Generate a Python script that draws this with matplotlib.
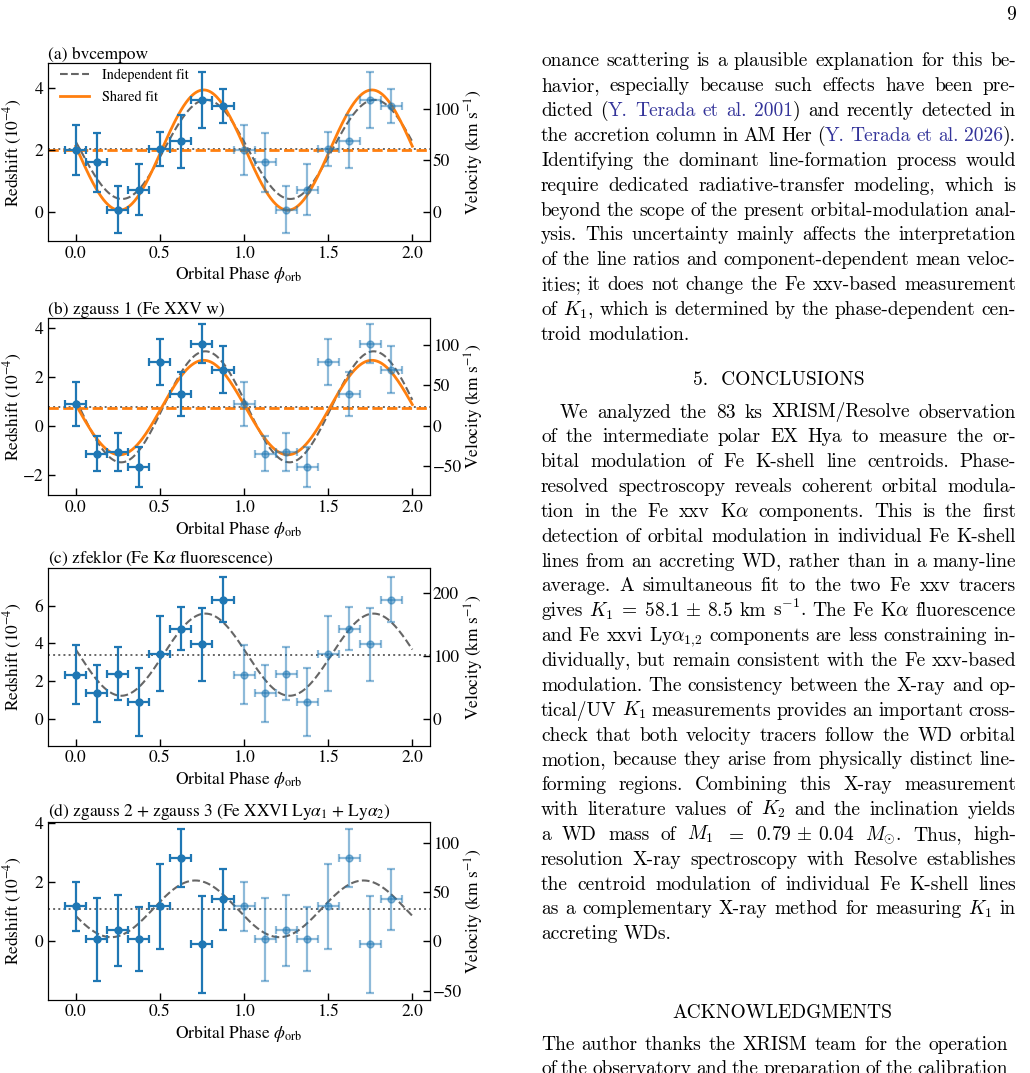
import re
import numpy as np
import matplotlib
matplotlib.use('Agg')
import matplotlib.pyplot as plt

plt.rcParams['font.family'] = 'STIXGeneral'
plt.rcParams['mathtext.fontset'] = 'stix'

W, H = 1030, 1073
C_KMS = 299792.458

# ---- data (redshift in units of 1e-4) ----
phase = np.arange(8) * 0.125
phase_err = 0.0625

z_a = [2.00, 1.61, 0.08, 0.72, 2.02, 2.28, 3.62, 3.42]
e_a = [0.82, 0.95, 0.75, 0.83, 0.55, 0.86, 0.91, 0.56]
z_b = [0.90, -1.15, -1.07, -1.70, 2.63, 1.31, 3.37, 2.30]
e_b = [0.90, 0.72, 0.78, 0.82, 0.95, 0.91, 0.80, 0.97]
z_c = [2.34, 1.35, 2.40, 0.90, 3.45, 4.77, 3.95, 6.32]
e_c = [1.55, 1.50, 1.43, 1.80, 2.00, 1.14, 1.95, 1.20]
z_d = [1.18, 0.07, 0.37, 0.09, 1.18, 2.81, -0.10, 1.43]
e_d = [0.83, 1.40, 1.19, 1.08, 1.45, 0.98, 1.65, 1.03]

# sinusoid fits: (mean, amplitude, phase of maximum)
indep_a = (2.02, 1.60, 0.775)
indep_b = (0.78, 2.28, 0.770)
indep_c = (3.40, 2.18, 0.770)
indep_d = (1.10, 0.96, 0.710)
shared_a = (2.00, 1.94, 0.760)
shared_b = (0.75, 1.94, 0.760)

titles = ['(a) bvcempow', '(b) zgauss 1 (Fe XXV w)',
          r'(c) zfeklor (Fe K$\alpha$ fluorescence)',
          r'(d) zgauss 2 + zgauss 3 (Fe XXVI Ly$\alpha_1$ + Ly$\alpha_2$)']
ylims = [(-0.93, 4.80), (-2.85, 4.44), (-1.42, 8.0), (-1.97, 4.04)]
zticks = [[0, 2, 4], [-2, 0, 2, 4], [0, 2, 4, 6], [0, 2, 4]]
vticks = [[0, 50, 100], [-50, 0, 50, 100], [0, 100, 200], [-50, 0, 50, 100]]
xticks = [0.0, 0.5, 1.0, 1.5, 2.0]

panels = [(z_a, e_a, indep_a, shared_a), (z_b, e_b, indep_b, shared_b),
          (z_c, e_c, indep_c, None), (z_d, e_d, indep_d, None)]

ax_tops = [63.3, 317.7, 568.0, 822.0]
ax_h = 177.5
ax_left, ax_w = 48, 382
FS = 12.5


def sine(p, pars):
    mean, amp, pmax = pars
    return mean + amp * np.sin(2 * np.pi * (p - pmax + 0.25))


fig = plt.figure(figsize=(W / 100, H / 100), dpi=100)
pgrid = np.linspace(0, 2, 400)

for i, (z, e, indep, shared) in enumerate(panels):
    top = ax_tops[i]
    ax = fig.add_axes([ax_left / W, 1 - (top + ax_h) / H, ax_w / W, ax_h / H])
    ax.errorbar(phase, z, xerr=phase_err, yerr=e, fmt='o', color='C0', ms=5,
                elinewidth=1.6, capsize=3, capthick=1.6, zorder=3)
    ax.errorbar(phase + 1, z, xerr=phase_err, yerr=e, fmt='o', color='C0', ms=5,
                elinewidth=1.6, capsize=3, capthick=1.6, alpha=0.5, zorder=3)
    ax.plot(pgrid, sine(pgrid, indep), ls='--', color='0.4', lw=1.5,
            label='Independent fit', zorder=2)
    ax.axhline(indep[0], ls=':', color='0.4', lw=1.4, zorder=1)
    if shared is not None:
        ax.plot(pgrid, sine(pgrid, shared), color='C1', lw=2,
                label='Shared fit', zorder=2)
        ax.axhline(shared[0], ls='--', color='C1', lw=2, zorder=1)
    ax.set_xlim(-0.165, 2.105)
    ax.set_ylim(*ylims[i])
    ax.set_xticks(xticks)
    ax.set_yticks(zticks[i])
    ax.tick_params(direction='in', length=5, width=1, labelsize=FS)
    ax.set_xlabel(r'Orbital Phase $\phi_{\rm orb}$', fontsize=FS, labelpad=2)
    ax.set_ylabel(r'Redshift ($10^{-4}$)', fontsize=FS)
    ax.yaxis.set_label_coords(-0.063, 0.5)
    ax.set_title(titles[i], loc='left', fontsize=FS, pad=1.5)
    if i == 0:
        ax.legend(loc='upper left', bbox_to_anchor=(0.017, 1.0), borderaxespad=0,
                  frameon=False, fontsize=10.3, handlelength=2, handletextpad=0.9,
                  labelspacing=0.55)
    ax2 = ax.twinx()
    ax2.set_ylim(np.array(ylims[i]) * C_KMS * 1e-4)
    ax2.set_yticks(vticks[i])
    ax2.tick_params(direction='in', length=5, width=1, labelsize=FS, pad=2)
    ax2.set_ylabel(r'Velocity (km s$^{-1}$)', fontsize=FS)
    ax2.yaxis.set_label_coords(1.086, 0.5)

# ---- text column on the right ----
BLUE = '#333399'
body_kw = dict(fontfamily='cmr10', math_fontfamily='cm', fontsize=14)
renderer = fig.canvas.get_renderer()

para1 = [
    "onance scattering is a plausible explanation for this be-",
    "havior, especially because such effects have been pre-",
    "dicted ([Y. Terada et al. 2001]) and recently detected in",
    "the accretion column in AM Her ([Y. Terada et al. 2026]).",
    "Identifying the dominant line-formation process would",
    "require dedicated radiative-transfer modeling, which is",
    "beyond the scope of the present orbital-modulation anal-",
    "ysis. This uncertainty mainly affects the interpretation",
    "of the line ratios and component-dependent mean veloc-",
    "ities; it does not change the Fe xxv-based measurement",
    "of $K_1$, which is determined by the phase-dependent cen-",
    "troid modulation.",
]
para2 = [
    "We analyzed the 83 ks XRISM/Resolve observation",
    "of the intermediate polar EX Hya to measure the or-",
    "bital modulation of Fe K-shell line centroids. Phase-",
    "resolved spectroscopy reveals coherent orbital modula-",
    r"tion in the Fe xxv K$\alpha$ components. This is the first",
    "detection of orbital modulation in individual Fe K-shell",
    "lines from an accreting WD, rather than in a many-line",
    "average. A simultaneous fit to the two Fe xxv tracers",
    r"gives $K_1\;=\;58.1\,\pm\,8.5$ km s$^{-1}$. The Fe K$\alpha$ fluorescence",
    r"and Fe xxvi Ly$\alpha_{1,\!2}$ components are less constraining in-",
    "dividually, but remain consistent with the Fe xxv-based",
    "modulation. The consistency between the X-ray and op-",
    "tical/UV $K_1$ measurements provides an important cross-",
    "check that both velocity tracers follow the WD orbital",
    "motion, because they arise from physically distinct line-",
    "forming regions. Combining this X-ray measurement",
    "with literature values of $K_2$ and the inclination yields",
    r"a WD mass of $M_1$ $=$ $0.79\,\pm\,0.04$ $M_{\odot}$. Thus, high-",
    "resolution X-ray spectroscopy with Resolve establishes",
    "the centroid modulation of individual Fe K-shell lines",
    "as a complementary X-ray method for measuring $K_1$ in",
    "accreting WDs.",
]
ack = [
    "The author thanks the XRISM team for the operation",
    "of the observatory and the preparation of the calibration",
]


def put_line(line, x0, x1, y, justify, state):
    words = re.findall(r'(?:\$[^$]*\$|[^\s$])+', line)
    groups = []
    for w in words:
        segs = []
        for p in re.split(r'([\[\]])', w):
            if p == '[':
                state['blue'] = True
            elif p == ']':
                state['blue'] = False
            elif p:
                t = fig.text(0, 1 - y / H, p, ha='left', va='baseline',
                             color=BLUE if state['blue'] else 'black', **body_kw)
                segs.append((t, t.get_window_extent(renderer).width))
        groups.append(segs)
    widths = [sum(wd for _, wd in g) for g in groups]
    if justify and len(groups) > 1:
        gap = (x1 - x0 - sum(widths)) / (len(groups) - 1)
    else:
        gap = 6.5
    x = x0
    for g in groups:
        for t, wd in g:
            t.set_x(x / W)
            x += wd
        x += gap


def put_par(lines, x0, x1, y0, dy, indent, last_full=False):
    state = {'blue': False}
    for k, line in enumerate(lines):
        full = last_full or k < len(lines) - 1
        put_line(line, x0 + (indent if k == 0 else 0), x1, y0 + k * dy, full, state)


col0, col1, lead = 541, 1016, 24.85
put_par(para1, col0, col1, 66.5, lead, 0)
fig.text(778.5 / W, 1 - 385.0 / H, '5.  CONCLUSIONS', ha='center', va='baseline', **body_kw)
put_par(para2, col0, col1, 417.5, lead, 19)
fig.text(782 / W, 1 - 1018.5 / H, 'ACKNOWLEDGMENTS', ha='center', va='baseline', **body_kw)
put_par(ack, col0, 1008, 1049.5, lead, 0, last_full=True)
fig.text(1016 / W, 1 - 19.5 / H, '9', ha='right', va='baseline', **body_kw)

fig.savefig('out.png', dpi=100)
